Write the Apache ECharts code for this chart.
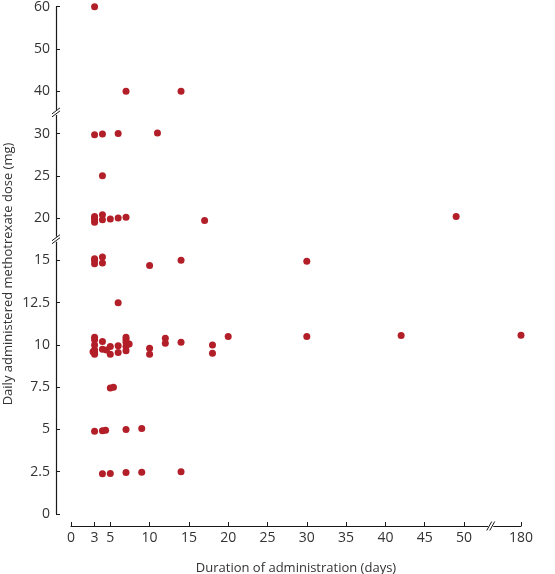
<!DOCTYPE html>
<html>
<head>
<meta charset="utf-8">
<script src="https://cdn.jsdelivr.net/npm/echarts@6/dist/echarts.min.js"></script>
<style>html,body{margin:0;padding:0;background:#fff;}#c{width:555px;height:574px;}</style>
</head>
<body>
<div id="c"></div>
<script>
// Duration of administration (days)
var durations = [
  3,
  7, 14,
  3, 4, 6, 11,
  4,
  3, 3, 3, 3, 4, 4, 5, 6, 7, 17, 49,
  3, 3, 3, 4, 4, 10, 14, 30,
  6,
  3, 3, 3, 3, 3, 3, 2.8, 4, 4, 4.5, 5, 5, 6, 6, 7, 7, 7, 7, 7, 7.4, 10, 10, 12, 12, 14, 18, 18, 20, 30, 42, 180,
  5, 5.4,
  3, 4, 4.4, 7, 9,
  4, 5, 7, 9, 14
];
// Daily administered methotrexate dose (mg)
var doses = [
  60,
  40, 40,
  29.85, 29.95, 30.0, 30.1,
  25,
  20.2, 20.0, 19.8, 19.5, 20.4, 19.8, 19.9, 20.0, 20.1, 19.7, 20.2,
  15.2, 15.0, 14.8, 15.4, 14.85, 14.7, 15.0, 14.95,
  12.5,
  10.45, 10.3, 10.0, 9.7, 9.55, 9.45, 9.6, 10.2, 9.75, 9.7, 9.9, 9.45, 9.95, 9.55, 10.45, 10.3, 10.15, 9.9, 9.65, 10.05, 9.8, 9.45, 10.4, 10.1, 10.15, 10.0, 9.5, 10.5, 10.5, 10.55, 10.57,
  7.45, 7.5,
  4.9, 4.92, 4.95, 5.0, 5.05,
  2.38, 2.4, 2.45, 2.47, 2.5
];
var yTickLabels = ['0', '2.5', '5', '7.5', '10', '12.5', '15', '20', '25', '30', '40', '50', '60'];
var xTickLabels = [0, 3, 5, 10, 15, 20, 25, 30, 35, 40, 45, 50, 180];

// Broken-axis transforms (piecewise linear scales)
function ty(v) {
  if (v <= 15) return v / 2.5;
  if (v <= 30) return 6 + (v - 15) / 5;
  return 9 + (v - 30) / 10;
}
function tx(d) {
  if (d <= 50) return d;
  return 50 + 7.25 * (d - 50) / 130;
}

var pts = durations.map(function (d, i) { return [tx(d), ty(doses[i])]; });
var xTickPos = xTickLabels.map(tx);

var font = 'Open Sans';
var txtColor = '#333333';
var lineColor = '#1a1a1a';

var chart = echarts.init(document.getElementById('c'), null, { renderer: 'canvas' });
chart.setOption({
  animation: false,
  backgroundColor: '#fff',
  grid: { left: 71, right: 34, top: 6.7, bottom: 60, containLabel: false, outerBoundsMode: 'none' },
  xAxis: {
    type: 'value', min: 0, max: tx(180), offset: 12,
    name: 'Duration of administration (days)', nameLocation: 'middle', nameGap: 36,
    nameTextStyle: { fontFamily: font, fontSize: 13, color: txtColor },
    splitLine: { show: false },
    axisLine: { show: true, onZero: false, lineStyle: { color: lineColor, width: 1.2 } },
    axisTick: { show: true, inside: true, length: 4, lineStyle: { color: lineColor }, customValues: xTickPos },
    axisLabel: {
      fontFamily: font, fontSize: 14, color: txtColor, margin: 5,
      customValues: xTickPos,
      formatter: function (v) {
        var i = xTickPos.findIndex(function (p) { return Math.abs(p - v) < 1e-6; });
        return i >= 0 ? String(xTickLabels[i]) : '';
      }
    }
  },
  yAxis: {
    type: 'value', min: 0, max: 12, interval: 1, offset: 15,
    splitLine: { show: false },
    axisLine: { show: true, onZero: false, lineStyle: { color: lineColor, width: 1.2 } },
    axisTick: { show: true, inside: true, length: 4, lineStyle: { color: lineColor } },
    axisLabel: {
      fontFamily: font, fontSize: 14, color: txtColor, margin: 6,
      formatter: function (v) { return yTickLabels[Math.round(v)] || ''; }
    }
  },
  series: [{
    type: 'scatter',
    data: pts,
    symbol: 'circle',
    symbolSize: 7,
    itemStyle: { color: '#b31f28', opacity: 1 },
    clip: false
  }]
});

// Break marks
var origin = chart.convertToPixel({ gridIndex: 0 }, [0, 0]);
var yAxisX = origin[0] - 15;
var xAxisY = origin[1] + 12;
var els = [];
function yBreak(slot) {
  var y = chart.convertToPixel({ gridIndex: 0 }, [0, slot])[1];
  els.push({ type: 'rect', shape: { x: yAxisX - 2, y: y - 2.5, width: 4, height: 5 }, style: { fill: '#fff' }, z: 100 });
  els.push({ type: 'line', shape: { x1: yAxisX - 4, y1: y + 1.5, x2: yAxisX + 4, y2: y - 4.5 }, style: { stroke: lineColor, lineWidth: 1 }, z: 101 });
  els.push({ type: 'line', shape: { x1: yAxisX - 4, y1: y + 4.5, x2: yAxisX + 4, y2: y - 1.5 }, style: { stroke: lineColor, lineWidth: 1 }, z: 101 });
}
function xBreak(val) {
  var x = chart.convertToPixel({ gridIndex: 0 }, [val, 0])[0];
  els.push({ type: 'rect', shape: { x: x - 2.5, y: xAxisY - 2, width: 5, height: 4 }, style: { fill: '#fff' }, z: 100 });
  els.push({ type: 'line', shape: { x1: x - 4, y1: xAxisY + 4.5, x2: x + 1, y2: xAxisY - 4.5 }, style: { stroke: lineColor, lineWidth: 1 }, z: 101 });
  els.push({ type: 'line', shape: { x1: x - 1, y1: xAxisY + 4.5, x2: x + 4, y2: xAxisY - 4.5 }, style: { stroke: lineColor, lineWidth: 1 }, z: 101 });
}
yBreak(6.5);
yBreak(9.5);
xBreak(53.4);
// Y axis title
els.push({
  type: 'text', x: 8, y: 274, rotation: Math.PI / 2,
  style: { text: 'Daily administered methotrexate dose (mg)', font: '13px "' + font + '"', fill: txtColor, align: 'center', verticalAlign: 'middle' },
  z: 50
});
chart.setOption({ graphic: { elements: els } });
</script>
</body>
</html>
